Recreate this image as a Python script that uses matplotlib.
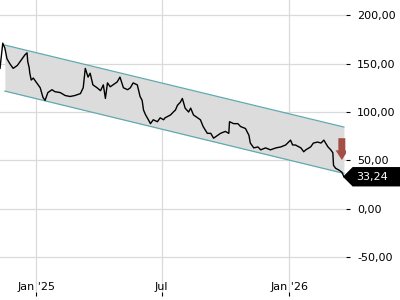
import matplotlib
matplotlib.use('Agg')
import matplotlib.pyplot as plt
import matplotlib.dates as mdates
from matplotlib.patches import Polygon
import pandas as pd

# price series
dates = pd.to_datetime([
    '2024-11-10', '2024-11-14', '2024-11-17', '2024-11-20', '2024-11-24', '2024-11-29',
    '2024-12-05', '2024-12-09', '2024-12-16', '2024-12-19', '2024-12-20', '2024-12-22',
    '2024-12-23', '2024-12-25', '2024-12-28', '2025-01-01', '2025-01-07', '2025-01-11',
    '2025-01-14', '2025-01-18', '2025-01-24', '2025-01-28', '2025-02-05', '2025-02-12',
    '2025-02-19', '2025-02-26', '2025-03-06', '2025-03-10', '2025-03-13', '2025-03-17',
    '2025-03-20', '2025-03-24', '2025-03-30', '2025-04-04', '2025-04-08', '2025-04-11',
    '2025-04-14', '2025-04-18', '2025-04-22', '2025-04-28', '2025-05-02', '2025-05-07',
    '2025-05-13', '2025-05-17', '2025-05-21', '2025-05-27', '2025-05-31', '2025-06-03',
    '2025-06-05', '2025-06-08', '2025-06-12', '2025-06-15', '2025-06-19', '2025-06-25',
    '2025-06-29', '2025-07-04', '2025-07-06', '2025-07-14', '2025-07-18', '2025-07-21',
    '2025-07-24', '2025-07-28', '2025-07-31', '2025-08-04', '2025-08-09', '2025-08-12',
    '2025-08-16', '2025-08-22', '2025-08-26', '2025-08-30', '2025-09-05', '2025-09-10',
    '2025-09-14', '2025-09-20', '2025-09-24', '2025-10-01', '2025-10-06', '2025-10-07',
    '2025-10-13', '2025-10-19', '2025-10-23', '2025-10-30', '2025-11-04', '2025-11-06',
    '2025-11-11', '2025-11-17', '2025-11-21', '2025-11-28', '2025-12-05', '2025-12-13',
    '2025-12-20', '2025-12-27', '2026-01-03', '2026-01-06', '2026-01-10', '2026-01-18',
    '2026-01-22', '2026-01-25', '2026-02-01', '2026-02-05', '2026-02-11', '2026-02-16',
    '2026-02-20', '2026-02-26', '2026-03-02', '2026-03-05', '2026-03-06', '2026-03-09',
    '2026-03-14', '2026-03-18', '2026-03-21',
])
prices = [
    145, 171, 166, 155, 150, 145,
    148, 152, 159, 161, 152, 146,
    140, 133, 135, 131, 125, 115,
    112, 120, 123, 121, 120, 117,
    116, 117, 119, 125, 145, 136,
    140, 128, 125, 122, 128, 114,
    130, 126, 128, 131, 136, 125,
    123, 125, 130, 128, 116, 112,
    102, 97, 92, 88, 92, 90,
    94, 92, 94, 97, 100, 102,
    107, 110, 114, 104, 100, 104,
    97, 94, 92, 85, 78, 78,
    73, 76, 78, 80, 78, 90,
    88, 88, 85, 83, 76, 68,
    63, 64, 61, 63, 61, 63,
    64, 66, 71, 66, 66, 63,
    59, 61, 64, 68, 69, 68,
    71, 64, 61, 58, 45, 42,
    40, 38, 33.24,
]
last_label = '33,24'

# trend channel
channel_dates = pd.to_datetime(['2024-11-17', '2026-03-21'])
channel_upper = [169, 84.5]
channel_lower = [121.6, 36.7]

# signal arrow
arrow_date = pd.Timestamp('2026-03-18')
arrow_from = 73
arrow_to = 50.5

xtick_dates = pd.to_datetime(['2025-01-01', '2025-07-01', '2026-01-01'])
xtick_labels = ["Jan '25", 'Jul', "Jan '26"]
yticks = [-50, 0, 50, 100, 150, 200]

fig = plt.figure(figsize=(4, 3), dpi=100)
ax = fig.add_axes([0, 1 - 292 / 300, 346 / 400, 292 / 300])

ax.fill_between(channel_dates, channel_lower, channel_upper, color='#dcdcdc', lw=0, zorder=1)
ax.plot(channel_dates, channel_upper, color='#62a9ad', lw=0.9, zorder=2)
ax.plot(channel_dates, channel_lower, color='#62a9ad', lw=0.9, zorder=2)

ax.plot(dates, prices, color='black', lw=1.0, zorder=3)

ax.set_xlim(pd.Timestamp('2024-11-10'), pd.Timestamp('2026-03-24'))
ax.set_ylim(-85.6, 215.5)

ax.set_xticks(xtick_dates)
ax.set_xticklabels(xtick_labels)
ax.set_yticks(yticks)
ax.set_yticklabels([f'{v:.2f}'.replace('.', ',') for v in yticks])
ax.yaxis.tick_right()
ax.tick_params(axis='y', direction='out', length=3, width=0.8, pad=5, labelsize=8, colors='black')
ax.tick_params(axis='x', direction='out', length=3, width=0.8, pad=-10.5, labelsize=8)

ax.grid(True, color='#dadada', lw=0.9, zorder=0)
ax.set_axisbelow(True)
for s in ax.spines.values():
    s.set_visible(False)

# red down arrow
xa = mdates.date2num(arrow_date)
ax.arrow(xa, arrow_from, 0, arrow_to - arrow_from, width=10, head_width=18,
         head_length=10, length_includes_head=True, color='#a0473d', alpha=0.95,
         lw=0, zorder=4)

# last price tag
px, py = ax.transData.transform((mdates.date2num(dates[-1]), prices[-1]))
tag = Polygon([(px, py), (px + 9, py + 9), (px + 60, py + 9), (px + 60, py - 9), (px + 9, py - 9)],
              closed=True, transform=None, color='black', clip_on=False, zorder=5)
fig.patches.append(tag)
fig.text((px + 12) / 400, py / 300, last_label, color='white', fontsize=8,
         va='center', ha='left', zorder=6)

fig.savefig('out.png', dpi=100)
